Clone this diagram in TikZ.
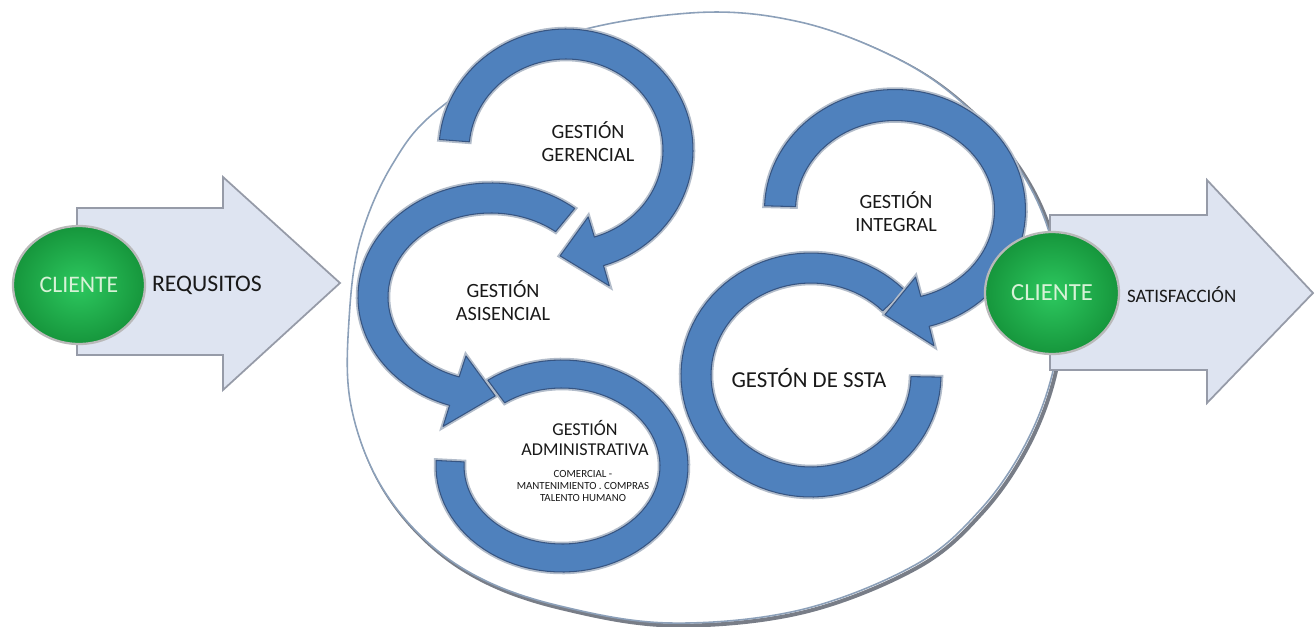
\documentclass[tikz,border=0pt]{standalone}
\usepackage{fontspec}
\setmainfont{Carlito}
\usetikzlibrary{shapes.geometric}
\definecolor{ringblue}{RGB}{79,129,189}
\definecolor{ringdark}{RGB}{55,85,130}
\definecolor{ringlight}{RGB}{178,188,202}
\definecolor{arrowfill}{RGB}{222,228,241}
\definecolor{arrowedge}{RGB}{150,155,168}
\definecolor{ovaledge}{RGB}{140,160,185}
\definecolor{ovalshadow}{RGB}{120,125,135}
\definecolor{greenin}{RGB}{45,200,95}
\definecolor{greenout}{RGB}{22,150,60}
\definecolor{clientetext}{RGB}{215,242,215}
\definecolor{txt}{RGB}{25,25,25}
\tikzset{
  ringstyle/.style={preaction={draw=ringlight, line width=2.6pt}, fill=ringblue, draw=ringdark, line width=0.6pt, line join=round},
  bigarrow/.style={fill=arrowfill, draw=arrowedge, line width=1pt, line join=miter},
  clientball/.style={ellipse, draw=gray!55, line width=1.3pt,
     inner color=greenin, outer color=greenout, text=clientetext},
  lbl/.style={text=txt, align=center, inner sep=1pt},
}
\newcommand\ringarrow[9]{%
 \path[ringstyle] plot[domain=0:1,samples=80,variable=\t]
   ({#1+(#3+#5/2)*cos(#6+(#7-#6)*\t)},{#2+(#4+#5/2)*sin(#6+(#7-#6)*\t)})
   -- ({#1+(#3+#5/2+#9)*cos(#7)},{#2+(#4+#5/2+#9)*sin(#7)})
   -- ({#1+#3*cos(#7+#8)},{#2+#4*sin(#7+#8)})
   -- ({#1+(#3-#5/2-#9)*cos(#7)},{#2+(#4-#5/2-#9)*sin(#7)})
   -- plot[domain=0:1,samples=80,variable=\t]
   ({#1+(#3-#5/2)*cos(#7+(#6-#7)*\t)},{#2+(#4-#5/2)*sin(#7+(#6-#7)*\t)})
   -- cycle;}
\newcommand\ovalpts{(690,13) (800,22) (900,60) (968,108) (1020,170) (1050,235) (1060,305) (1052,375)
 (1025,445) (980,510) (915,565) (800,610) (670,623) (560,606) (480,578) (420,535)
 (375,475) (350,400) (349,320) (360,240) (392,165) (440,108) (550,40)}
\begin{document}
\begin{tikzpicture}[x=0.02cm,y=-0.02cm]
\useasboundingbox (0,0) rectangle (1315,626);
% big oval with shadow
\draw[draw=ovalshadow, line width=2.2pt, xshift=0.05cm, yshift=-0.05cm]
  plot[smooth cycle, tension=0.6] coordinates {\ovalpts};
\draw[fill=white, draw=ovaledge, line width=0.9pt]
  plot[smooth cycle, tension=0.6] coordinates {\ovalpts};
% big arrows
\draw[bigarrow] (77,208) -- (223,208) -- (223,177) -- (340,283) -- (223,390) -- (223,355) -- (77,355) -- cycle;
\draw[bigarrow] (1050,215) -- (1207,215) -- (1207,180) -- (1313,293) -- (1207,403) -- (1207,370) -- (1050,370) -- cycle;
% ring arrows
\ringarrow{562}{466}{112}{92}{28}{234}{543}{0}{0}
\ringarrow{811}{375}{115}{107}{30}{316}{1}{0}{0}
\ringarrow{566}{150}{112}{106}{30}{185}{433}{20}{21}
\ringarrow{491}{297}{118}{99}{30}{309}{108}{-20}{22}
\ringarrow{895}{210}{115}{105}{31}{182}{435}{20}{20}
% client balls
\node[clientball, minimum width=2.64cm, minimum height=2.36cm,
  font=\fontsize{13.5}{15}\selectfont] (cl1) at (79,285) {CLIENTE};
\node[clientball, minimum width=2.68cm, minimum height=2.44cm,
  font=\fontsize{14}{16}\selectfont] (cl2) at (1052,293) {CLIENTE};
% labels
\node[lbl, anchor=west, font=\fontsize{13.5}{15}\selectfont] (req) at (150,285) {REQUSITOS};
\node[lbl, anchor=west, font=\fontsize{10.8}{12}\selectfont] (sat) at (1125,295) {SATISFACCIÓN};
\node[lbl, font=\fontsize{11.5}{13.2}\selectfont] (ger) at (588,142) {GESTIÓN\\GERENCIAL};
\node[lbl, font=\fontsize{11.5}{13.2}\selectfont] (asi) at (503,301) {GESTIÓN\\ASISENCIAL};
\node[lbl, font=\fontsize{10.3}{11.4}\selectfont] (adm) at (585,438) {GESTIÓN\\ADMINISTRATIVA};
\node[lbl, font=\fontsize{6.2}{6.9}\selectfont] (admsub) at (583,486) {COMERCIAL -\\MANTENIMIENTO . COMPRAS\\TALENTO HUMANO};
\node[lbl, font=\fontsize{11.5}{13.2}\selectfont] (int) at (896,212) {GESTIÓN\\INTEGRAL};
\node[lbl, font=\fontsize{13}{15}\selectfont] (ssta) at (809,378) {GESTÓN DE SSTA};
\end{tikzpicture}
\end{document}
